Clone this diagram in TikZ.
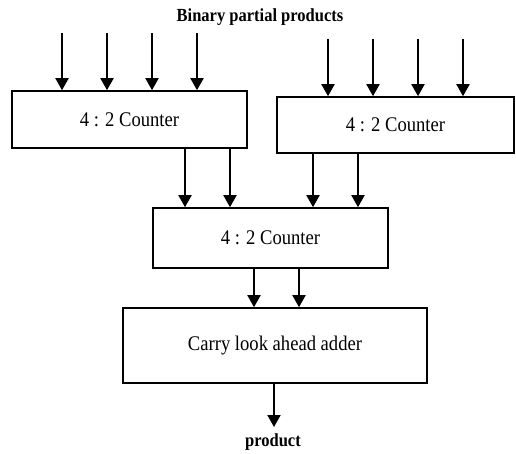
\documentclass[tikz,border=0pt]{standalone}
\usepackage{fontspec}
\setmainfont{Liberation Serif}
\usetikzlibrary{arrows.meta}
\newcommand{\tall}[1]{\scalebox{1}[1.12]{#1}}
\begin{document}
\begin{tikzpicture}[x=1pt,y=-1pt,
  blk/.style={draw,line width=1.6pt,inner sep=0pt,font=\fontsize{18.6}{20}\selectfont},
  arr/.style={line width=1.9pt,-{Triangle[width=13pt,length=12pt]}},
  lbl/.style={font=\fontsize{16.5}{18}\selectfont\bfseries,inner sep=0pt}]
\useasboundingbox (0,0) rectangle (516,453);
\node[blk,minimum width=235pt,minimum height=57pt] (b1) at (129.5,119.5) {\tall{4 : 2 Counter}};
\node[blk,minimum width=237pt,minimum height=56pt] (b2) at (395.5,125) {\tall{4 : 2 Counter}};
\node[blk,minimum width=235pt,minimum height=60pt] (b3) at (270.5,238) {\tall{4 : 2 Counter}};
\node[blk,minimum width=304pt,minimum height=75pt] (b4) at (275,345.5) {\tall{Carry look ahead adder}};
\node[lbl] (title) at (260,17) {\tall{Binary partial products}};
\node[lbl] (prod) at (273,442) {\tall{product}};
% inputs to b1
\foreach \i/\x in {1/62,2/107,3/152,4/197}{
  \coordinate (a\i) at (\x,33);
  \draw[arr] (a\i) -- (a\i |- b1.north);
}
% inputs to b2
\foreach \i/\x in {1/328,2/373,3/418,4/463}{
  \coordinate (c\i) at (\x,39);
  \draw[arr] (c\i) -- (c\i |- b2.north);
}
% b1 -> b3
\foreach \i/\x in {1/185,2/230}{
  \coordinate (d\i) at (\x,0);
  \draw[arr] (d\i |- b1.south) -- (d\i |- b3.north);
}
% b2 -> b3
\foreach \i/\x in {1/313,2/358}{
  \coordinate (e\i) at (\x,0);
  \draw[arr] (e\i |- b2.south) -- (e\i |- b3.north);
}
% b3 -> b4
\foreach \i/\x in {1/254,2/299}{
  \coordinate (f\i) at (\x,0);
  \draw[arr] (f\i |- b3.south) -- (f\i |- b4.north);
}
% b4 -> product
\coordinate (g) at (274,427);
\draw[arr] (g |- b4.south) -- (g);
\end{tikzpicture}
\end{document}
